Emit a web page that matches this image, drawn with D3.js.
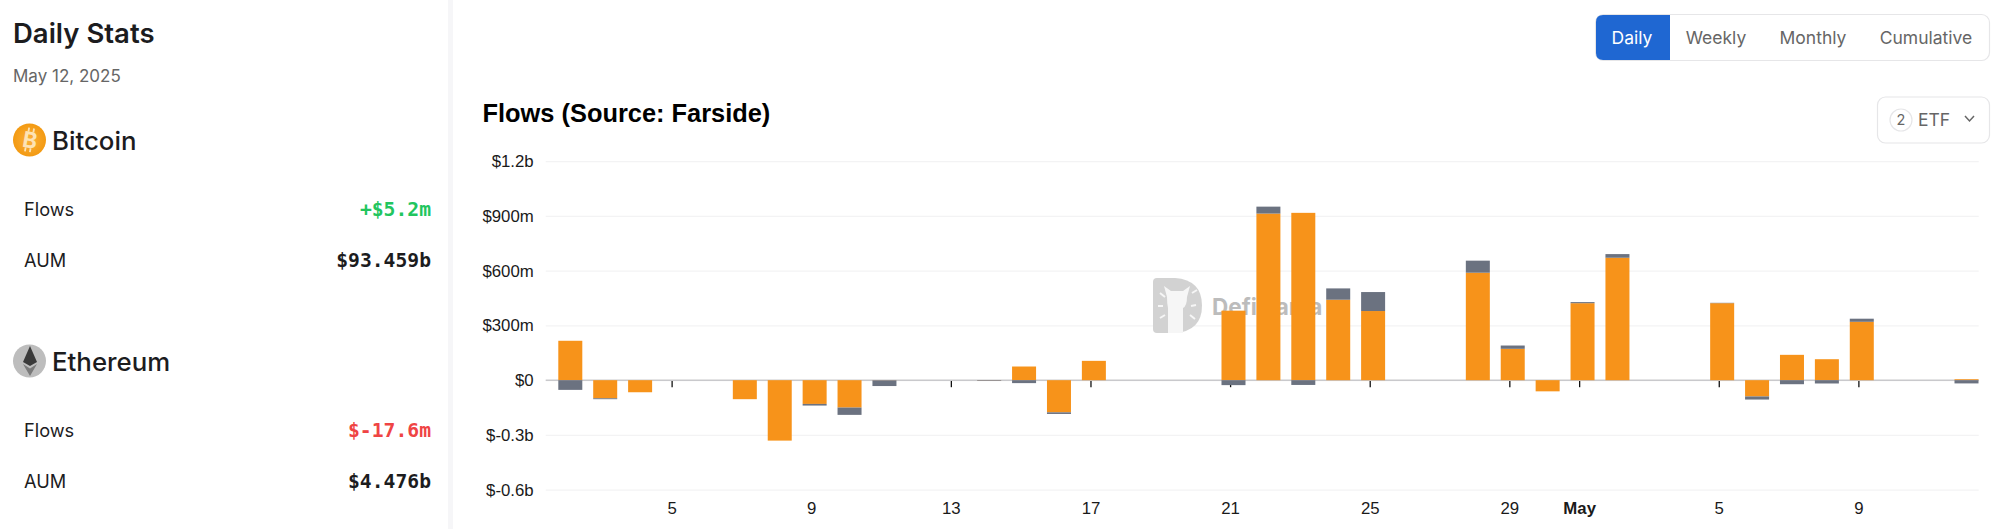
<!DOCTYPE html>
<html>
<head>
<meta charset="utf-8">
<script src="https://cdn.jsdelivr.net/npm/d3@7"></script>
<style>
  html, body { margin: 0; padding: 0; background: #fff; overflow: hidden; }
  svg { display: block; }
  text { font-family: Inter, "Noto Sans", sans-serif; }
  .axis text { font-family: "Liberation Sans", Arial, sans-serif; font-size: 16.8px; fill: #1a1a1a; }
  .mono { font-family: "DejaVu Sans Mono", monospace; font-weight: 700; font-size: 19.7px; }
</style>
</head>
<body>
<svg id="chart" width="2000" height="529"></svg>
<script>
// one entry per day, 2025
const dates = ["2025-04-02","2025-04-03","2025-04-04","2025-04-05","2025-04-06","2025-04-07","2025-04-08",
  "2025-04-09","2025-04-10","2025-04-11","2025-04-12","2025-04-13","2025-04-14","2025-04-15","2025-04-16",
  "2025-04-17","2025-04-18","2025-04-19","2025-04-20","2025-04-21","2025-04-22","2025-04-23","2025-04-24",
  "2025-04-25","2025-04-26","2025-04-27","2025-04-28","2025-04-29","2025-04-30","2025-05-01","2025-05-02",
  "2025-05-03","2025-05-04","2025-05-05","2025-05-06","2025-05-07","2025-05-08","2025-05-09","2025-05-10",
  "2025-05-11","2025-05-12"];

// flows in $m
const bitcoin = [216,-99,-66,0,0,-104,-331,-130,-150,-1,0,0,1,75,-176,106,0,0,0,381,913,917,441,379,0,0,589,172,-61,422,671,0,0,422,-89,139,115,320,0,0,5.2];
const ethereum = [-53,-5,0,0,0,0,0,-9,-40,-31,0,0,-3,-16,-9,0,0,0,0,-27,38,-26,62,104,0,0,66,18,0,6,20,0,0,2,-17,-22,-18,17,0,0,-17.6];

const yTicks = [-600,-300,0,300,600,900,1200];
const yLabels = ["$-0.6b","$-0.3b","$0","$300m","$600m","$900m","$1.2b"];
const xTicks = ["2025-04-05","2025-04-09","2025-04-13","2025-04-17","2025-04-21","2025-04-25","2025-04-29","2025-05-01","2025-05-05","2025-05-09"];
const xLabels = ["5","9","13","17","21","25","29","May","5","9"];

const tabs = ["Daily","Weekly","Monthly","Cumulative"];
const tabCenters = [1632,1716,1813,1926];

const assets = [
  { name: "Bitcoin", flows: "+$5.2m", flowColor: "#22c55e", aum: "$93.459b" },
  { name: "Ethereum", flows: "$-17.6m", flowColor: "#ef4444", aum: "$4.476b" }
];

const svg = d3.select("#chart");
const parse = d3.utcParse("%Y-%m-%d");
const rows = dates.map((d, i) => ({ date: parse(d), bitcoin: bitcoin[i], ethereum: ethereum[i] }));

// sidebar
svg.append("rect").attr("x", 448).attr("y", 0).attr("width", 5).attr("height", 529).attr("fill", "#f6f6f8");

svg.append("text").attr("x", 13).attr("y", 43).attr("font-size", 27.5).attr("font-weight", 600).attr("fill", "#1c1c1e").text("Daily Stats");
svg.append("text").attr("x", 13).attr("y", 82).attr("font-size", 17).attr("fill", "#666").text("May 12, 2025");

const defs = svg.append("defs");
const grad = defs.append("radialGradient").attr("id", "btc");
grad.append("stop").attr("offset", "0%").attr("stop-color", "#fbb03b");
grad.append("stop").attr("offset", "100%").attr("stop-color", "#f39a12");

assets.forEach((a, i) => {
  const g = svg.append("g").attr("transform", `translate(0,${i * 221})`);
  g.append("circle").attr("cx", 29.5).attr("cy", 140).attr("r", 16.5).attr("fill", i === 0 ? "url(#btc)" : "#bdbdbd");
  if (i === 0) {
    const b = g.append("g").attr("transform", "rotate(10 30 140)");
    b.append("text").attr("x", 30).attr("y", 148).attr("text-anchor", "middle").attr("font-size", 22)
      .attr("font-weight", 700).attr("fill", "#fde3b5").text("B");
    b.append("path").attr("d", "M27 128 V132 M32 128 V132 M27 148 V152 M32 148 V152")
      .attr("stroke", "#fde3b5").attr("stroke-width", 1.8);
  } else {
    g.append("path").attr("d", "M30 125 L23 141 L30 145 L37 141 Z").attr("fill", "#3a3a3a");
    g.append("path").attr("d", "M23 143 L30 155 L37 143 L30 147.5 Z").attr("fill", "#7a7a7a");
  }
  g.append("text").attr("x", 52).attr("y", 150).attr("font-size", 25.8).attr("font-weight", 500).attr("fill", "#1c1c1e").text(a.name);
  g.append("text").attr("x", 24).attr("y", 216).attr("font-size", 18.2).attr("fill", "#1c1c1e").text("Flows");
  g.append("text").attr("x", 24).attr("y", 267).attr("font-size", 18.2).attr("fill", "#1c1c1e").text("AUM");
  g.append("text").attr("class", "mono").attr("x", 431).attr("y", 216).attr("text-anchor", "end").attr("fill", a.flowColor).text(a.flows);
  g.append("text").attr("class", "mono").attr("x", 431).attr("y", 267).attr("text-anchor", "end").attr("fill", "#1c1c1e").text(a.aum);
});

// tab buttons
svg.append("rect").attr("x", 1595.5).attr("y", 14.5).attr("width", 394).attr("height", 46).attr("rx", 8)
  .attr("fill", "#fff").attr("stroke", "#e6e6e8").attr("stroke-width", 1.2);
svg.append("path").attr("d", "M1670 15 H1603 Q1596 15 1596 22 V53 Q1596 60 1603 60 H1670 Z").attr("fill", "#1f67d2");
svg.selectAll(".tab").data(tabs).join("text")
  .attr("class", "tab")
  .attr("x", (d, i) => tabCenters[i]).attr("y", 44)
  .attr("text-anchor", "middle").attr("font-size", 17.5)
  .attr("fill", (d, i) => i === 0 ? "#fff" : "#666")
  .text(d => d);

// ETF dropdown
svg.append("rect").attr("x", 1877.5).attr("y", 97).attr("width", 112).attr("height", 46).attr("rx", 8)
  .attr("fill", "#fff").attr("stroke", "#e6e6e8").attr("stroke-width", 1.2);
svg.append("circle").attr("cx", 1901).attr("cy", 120).attr("r", 11).attr("fill", "#fff").attr("stroke", "#e6e6e8").attr("stroke-width", 1.2);
svg.append("text").attr("x", 1901).attr("y", 125).attr("text-anchor", "middle").attr("font-size", 14.5).attr("fill", "#666").text("2");
svg.append("text").attr("x", 1918).attr("y", 125.5).attr("font-size", 17.5).attr("fill", "#666").text("ETF");
svg.append("path").attr("d", "M1965 116 L1969.5 121 L1974 116").attr("fill", "none").attr("stroke", "#666").attr("stroke-width", 1.5);

// chart title
svg.append("text").attr("x", 482.5).attr("y", 122).attr("font-size", 25.4).attr("font-weight", 700)
  .style("font-family", '"Liberation Sans", Arial, sans-serif').attr("fill", "#000").text("Flows (Source: Farside)");

// scales
const plotLeft = 545.7, plotRight = 1978.7;
const x = d3.scaleUtc().domain([parse(dates[0]), parse(dates[dates.length - 1])]).range([570.3, 1966.5]);
const y = d3.scaleLinear().domain([-600, 1200]).range([489.7, 161.2]);
const barWidth = 24;
const tickShift = -3.4;

// grid + y labels
const yAxis = d3.axisLeft(y)
  .tickValues(yTicks)
  .tickFormat((d, i) => yLabels[i])
  .tickSize(-(plotRight - plotLeft))
  .tickPadding(12);
const yG = svg.append("g").attr("class", "axis").attr("transform", `translate(${plotLeft},0)`).call(yAxis);
yG.select(".domain").remove();
yG.selectAll("line").attr("stroke", "#f3f3f4").attr("stroke-width", 1.2);

// watermark sits under the bars
const wm = svg.append("g");
wm.append("path").attr("d", "M1157 278 H1175 Q1202 280 1202 305.5 Q1202 331 1175 333 H1157 Q1153 333 1153 329 V282 Q1153 278 1157 278 Z").attr("fill", "#d2d2d2");
wm.append("path").attr("d", "M1167 297 L1164 286 L1171 291 H1183 L1190 286 L1187 297 Q1187 306 1183 308 V333 H1168 V308 Q1167 304 1167 297 Z").attr("fill", "#f6f6f6");
wm.append("path").attr("d", "M1160 293 L1165 297 M1192 293 L1197 290 M1158 306 L1163 306 M1191 306 L1196 305 M1160 318 L1165 315 M1190 315 L1195 319")
  .attr("stroke", "#f6f6f6").attr("stroke-width", 2);
wm.append("text").attr("x", 1212).attr("y", 315).attr("font-size", 22.5).attr("font-weight", 700).attr("fill", "#bcbcbc").text("DefiLlama");

// x ticks on the zero line, labels at the bottom
const tickDates = xTicks.map(parse);
const xTickAxis = d3.axisBottom(x).tickValues(tickDates).tickFormat("").tickSize(7);
const xt = svg.append("g").attr("transform", `translate(${tickShift},${y(0)})`).call(xTickAxis);
xt.select(".domain").remove();
xt.selectAll("line").attr("stroke", "#111").attr("stroke-width", 1.3);

const xLabelAxis = d3.axisBottom(x).tickValues(tickDates).tickFormat((d, i) => xLabels[i]).tickSize(0).tickPadding(0);
const xl = svg.append("g").attr("class", "axis").attr("transform", `translate(${tickShift},502)`).call(xLabelAxis);
xl.select(".domain").remove();
xl.selectAll("text").filter((d, i) => xLabels[i] === "May").attr("font-weight", 700);

svg.append("line").attr("x1", plotLeft).attr("x2", plotRight).attr("y1", y(0)).attr("y2", y(0))
  .attr("stroke", "#c9c9cc").attr("stroke-width", 1.5);

// stacked bars: bitcoin next to zero, ethereum beyond it
const stack = d3.stack().keys(["bitcoin", "ethereum"]).offset(d3.stackOffsetDiverging);
const colors = { bitcoin: "#f7931a", ethereum: "#6b7280" };

svg.append("g").selectAll("g").data(stack(rows)).join("g")
  .attr("fill", s => colors[s.key])
  .selectAll("rect").data(s => s).join("rect")
  .attr("x", d => x(d.data.date) - barWidth / 2)
  .attr("width", barWidth)
  .attr("y", d => y(Math.max(d[0], d[1])))
  .attr("height", d => Math.abs(y(d[0]) - y(d[1])));
</script>
</body>
</html>
